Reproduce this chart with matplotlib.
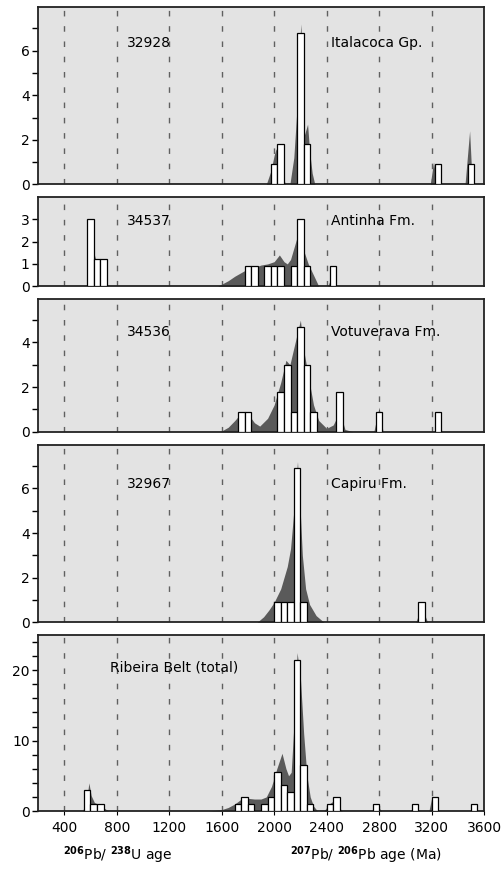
import matplotlib
matplotlib.use("Agg")
import matplotlib.pyplot as plt
from matplotlib.ticker import FixedLocator

# ---------------------------------------------------------------------------
# Detrital zircon age data (bin centres in Ma, 50 Ma bins)
# ---------------------------------------------------------------------------
p1_bins = [2000, 2050, 2200, 2250, 3250, 3500]
p1_bars = [0.9, 1.8, 6.8, 1.8, 0.9, 0.9]
p1_age = [1940, 1975, 2000, 2015, 2035, 2060, 2085, 2120, 2150, 2175, 2195, 2205, 2215,
          2230, 2245, 2255, 2270, 2290, 2310, 3190, 3215, 3240, 3455, 3490, 3510]
p1_pdf = [0, 0.6, 1.3, 1.6, 1.2, 0.6, 0, 0, 1.2, 3.5, 6.5, 7.2, 4.0,
          2.2, 2.5, 2.7, 1.5, 0.5, 0, 0, 1.0, 0, 0, 2.4, 0]

p2_bins = [600, 650, 700, 1800, 1850, 1950, 2000, 2050, 2150, 2200, 2250, 2450]
p2_bars = [3.0, 1.2, 1.2, 0.9, 0.9, 0.9, 0.9, 0.9, 0.9, 3.0, 0.9, 0.9]
p2_age = [570, 590, 605, 625, 650, 700, 720, 735, 1570, 1650, 1700, 1775, 1850, 1900,
          1950, 2000, 2040, 2075, 2100, 2125, 2175, 2200, 2225, 2260, 2300, 2340,
          2410, 2440, 2470]
p2_pdf = [0, 1.5, 2.5, 1.5, 1.0, 0.9, 0.3, 0, 0, 0.25, 0.45, 0.7, 0.85, 0.95,
          1.0, 1.1, 1.4, 1.1, 1.0, 1.2, 2.2, 2.6, 1.6, 1.0, 0.5, 0,
          0, 0.5, 0]

p3_bins = [1750, 1800, 2050, 2100, 2150, 2200, 2250, 2300, 2500, 2800, 3250]
p3_bars = [0.9, 0.9, 1.8, 3.0, 0.9, 4.7, 3.0, 0.9, 1.8, 0.9, 0.9]
p3_age = [1590, 1650, 1700, 1750, 1800, 1850, 1890, 1950, 2000, 2050, 2090, 2120,
          2160, 2200, 2230, 2260, 2300, 2340, 2400, 2450, 2500, 2540, 2600,
          2760, 2800, 2830, 3220, 3250, 3280]
p3_pdf = [0, 0.2, 0.5, 0.85, 0.8, 0.4, 0.25, 0.6, 1.2, 2.2, 3.2, 3.0,
          4.0, 5.0, 3.5, 2.5, 1.2, 0.5, 0.15, 0.3, 0.9, 0.1, 0,
          0, 1.1, 0, 0, 0.6, 0]

p4_bins = [2025, 2075, 2125, 2175, 2225, 3125]
p4_bars = [0.9, 0.9, 0.9, 6.9, 0.9, 0.9]
p4_age = [1870, 1920, 1960, 2000, 2050, 2100, 2125, 2150, 2165, 2178, 2195, 2215,
          2240, 2270, 2320, 2380, 3080, 3110, 3150, 3170]
p4_pdf = [0, 0.25, 0.55, 0.9, 1.5, 2.5, 3.3, 5.0, 6.3, 7.2, 5.5, 3.0,
          1.5, 0.8, 0.3, 0, 0, 0.5, 0.3, 0]

p5_bins = [575, 625, 675, 1725, 1775, 1825, 1925, 1975, 2025, 2075, 2125, 2175,
           2225, 2275, 2425, 2475, 2775, 3075, 3225, 3525]
p5_bars = [3, 1, 1, 1, 2, 1, 1, 2, 5.6, 3.7, 2.7, 21.5,
           6.5, 1, 1, 2, 1, 1, 2, 1]
p5_age = [540, 570, 588, 605, 630, 680, 720, 740,
          1500, 1600, 1650, 1700, 1750, 1800, 1850, 1900, 1940, 1980, 2020, 2060,
          2090, 2110, 2130, 2150, 2175, 2200, 2225, 2250, 2275, 2300, 2330,
          2380, 2420, 2450, 2480, 2520, 2760, 2790, 2820, 3040, 3075, 3110,
          3180, 3200, 3230, 3260, 3490, 3520, 3550]
p5_pdf = [0, 1.5, 4.0, 2.2, 1.2, 0.8, 0.2, 0,
          0, 0.2, 0.5, 1.0, 1.7, 1.8, 1.7, 1.7, 2.0, 3.5, 6.0, 8.2,
          6.0, 5.0, 5.5, 12.0, 22.5, 19.0, 11.0, 5.0, 2.0, 0.7, 0,
          0, 1.0, 1.4, 0.8, 0, 0, 0.6, 0, 0, 0.6, 0,
          0, 1.8, 0.6, 0, 0, 0.6, 0]

samples = ["32928", "34537", "34536", "32967", None]
units = ["Italacoca Gp.", "Antinha Fm.", "Votuverava Fm.", "Capiru Fm.", "Ribeira Belt (total)"]
age_ticks = [400, 800, 1200, 1600, 2000, 2400, 2800, 3200, 3600]

# ---------------------------------------------------------------------------
# Figure
# ---------------------------------------------------------------------------
C_BG, C_PDF, C_DASH = "#e3e3e3", "#5a5a5a", "#606060"
plt.rcParams["font.family"] = "DejaVu Sans"
fig = plt.figure(figsize=(5.04, 8.76), dpi=100)

# [bottom, height] in figure fraction, ylim, major ticks, minor ticks
panels = [
    (0.7896, 0.2021, 7.95, [0, 2, 4, 6], [1, 3, 5, 7]),
    (0.6732, 0.1016, 3.98, [0, 1, 2, 3], []),
    (0.5072, 0.1515, 5.95, [0, 2, 4], [1, 3, 5]),
    (0.2896, 0.2024, 7.95, [0, 2, 4, 6], [1, 3, 5, 7]),
    (0.0742, 0.2009, 25.0, [0, 10, 20], [2, 4, 6, 8, 12, 14, 16, 18, 22, 24]),
]
data = [
    (p1_bins, p1_bars, p1_age, p1_pdf),
    (p2_bins, p2_bars, p2_age, p2_pdf),
    (p3_bins, p3_bars, p3_age, p3_pdf),
    (p4_bins, p4_bars, p4_age, p4_pdf),
    (p5_bins, p5_bars, p5_age, p5_pdf),
]
# label anchor (y as fraction of ylim)
label_y = [0.80, 0.735, 0.75, 0.78, 0.815]

for i, ((bottom, height, ymax, major, minor), (bins, bars, age, pdf)) in enumerate(zip(panels, data)):
    ax = fig.add_axes([0.0754, bottom, 0.885, height])
    ax.set_facecolor(C_BG)
    for x in age_ticks[:-1]:
        ax.axvline(x, color=C_DASH, lw=1.0, ls=(0, (4, 7)), zorder=1)
    ax.fill_between(age, pdf, 0, color=C_PDF, lw=0, zorder=2)
    ax.bar(bins, bars, width=50, color="white", edgecolor="black", lw=0.9, zorder=3)
    ax.set_xlim(200, 3600)
    ax.set_ylim(0, ymax)
    ax.yaxis.set_major_locator(FixedLocator(major))
    ax.yaxis.set_minor_locator(FixedLocator(minor))
    ax.tick_params(axis="y", which="both", length=4, width=1.0, labelsize=10, pad=2)
    for s in ax.spines.values():
        s.set_linewidth(1.3)
        s.set_color("#222222")
    yl = label_y[i] * ymax
    if samples[i]:
        ax.text(880, yl, samples[i], fontsize=10, va="center", ha="left", zorder=5)
        ax.text(2432, yl, units[i], fontsize=10, va="center", ha="left", zorder=5)
    else:
        ax.text(746, yl, units[i], fontsize=10, va="center", ha="left", zorder=5)
    if i < 4:
        ax.set_xticks([])
    else:
        ax.set_xticks(age_ticks)
        ax.tick_params(axis="x", length=3, labelsize=10, pad=4)

fig.text(0.125, 0.024, r"$^{\mathbf{206}}$Pb/ $^{\mathbf{238}}$U age", fontsize=10, va="center")
fig.text(0.575, 0.024, r"$^{\mathbf{207}}$Pb/ $^{\mathbf{206}}$Pb age (Ma)", fontsize=10, va="center")

fig.savefig("out.png", dpi=100)
